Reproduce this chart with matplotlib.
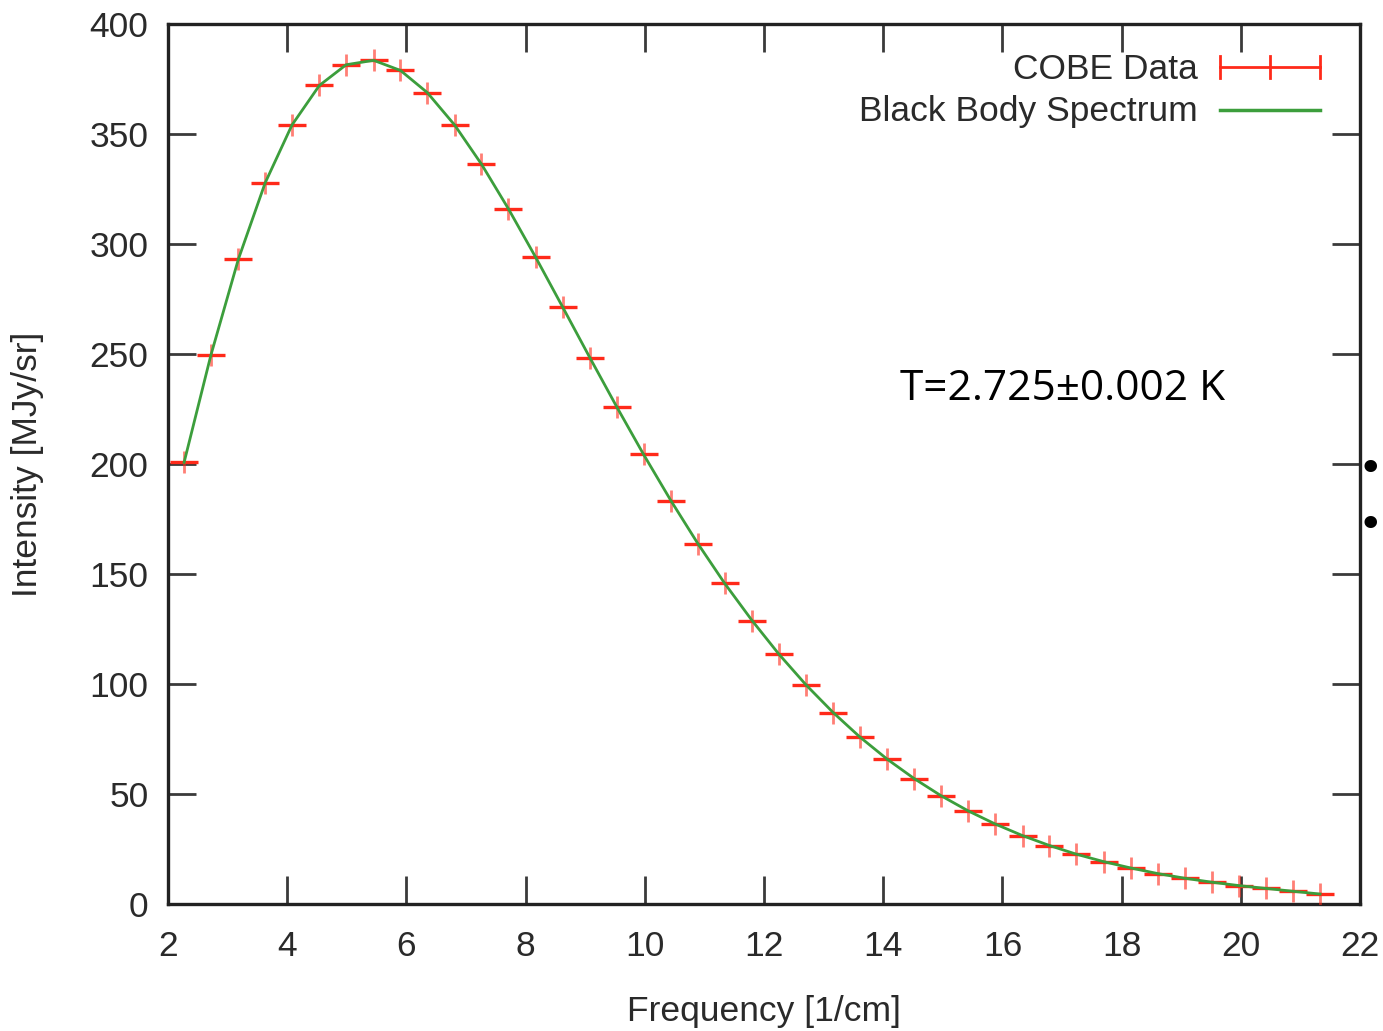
import matplotlib
matplotlib.use("Agg")
import matplotlib.pyplot as plt

# COBE FIRAS data
freq = [2.27, 2.72, 3.18, 3.63, 4.08, 4.54, 4.99, 5.45, 5.90, 6.35, 6.81, 7.26,
        7.71, 8.17, 8.62, 9.08, 9.53, 9.98, 10.44, 10.89, 11.34, 11.80, 12.25,
        12.71, 13.16, 13.61, 14.07, 14.52, 14.97, 15.43, 15.88, 16.34, 16.79,
        17.24, 17.70, 18.15, 18.61, 19.06, 19.51, 19.97, 20.42, 20.87, 21.33]
intensity = [200.723, 249.508, 293.024, 327.770, 354.081, 372.079, 381.493,
             383.478, 378.901, 368.833, 354.063, 336.278, 316.076, 293.924,
             271.432, 248.239, 225.940, 204.327, 183.262, 163.830, 145.750,
             128.835, 113.568, 99.451, 87.036, 75.876, 65.766, 57.008, 49.223,
             42.267, 36.352, 31.062, 26.580, 22.644, 19.255, 16.391, 13.811,
             11.716, 9.921, 8.364, 7.087, 5.801, 4.523]
# uncertainty in MJy/sr
err = [0.014, 0.019, 0.025, 0.023, 0.022, 0.021, 0.018, 0.018, 0.016, 0.014,
       0.013, 0.012, 0.011, 0.010, 0.011, 0.012, 0.014, 0.016, 0.018, 0.022,
       0.022, 0.023, 0.023, 0.023, 0.022, 0.021, 0.020, 0.019, 0.019, 0.019,
       0.021, 0.023, 0.026, 0.028, 0.030, 0.032, 0.033, 0.035, 0.041, 0.055,
       0.088, 0.155, 0.282]

xticks = [2, 4, 6, 8, 10, 12, 14, 16, 18, 20, 22]
yticks = [0, 50, 100, 150, 200, 250, 300, 350, 400]

W, H = 1383, 1031
fig = plt.figure(figsize=(W / 100, H / 100), dpi=100)
L, R, T, B = 168, 1360, 24, 904
ax = fig.add_axes([L / W, 1 - B / H, (R - L) / W, (B - T) / H])

red = "#ff2a1a"
green = "#3c9e3c"
tc = "#2a2a2a"
FS = 25.5

# data points with error bars
ax.plot(freq, intensity, linestyle="none", marker="|", markersize=15.5,
        markeredgewidth=2.0, color=red, alpha=0.6, zorder=3)
ax.plot(freq, intensity, linestyle="none", marker="_", markersize=19.5,
        markeredgewidth=2.4, color=red, zorder=3)
ax.errorbar(freq, intensity, yerr=err, fmt="none", ecolor=red, elinewidth=1.5,
            capsize=0, zorder=3)

# black body spectrum line
ax.plot(freq, intensity, color=green, linewidth=2.0, zorder=4)

ax.set_xlim(2, 22)
ax.set_ylim(0, 400)
ax.set_xticks(xticks)
ax.set_yticks(yticks)
ax.tick_params(direction="in", length=20, width=2.0, color="#3a3a3a",
               top=True, right=True, labelsize=FS, labelcolor=tc)
ax.tick_params(axis="x", pad=19)
ax.tick_params(axis="y", pad=14)
for lab in ax.get_xticklabels() + ax.get_yticklabels():
    lab.set_fontfamily("Liberation Sans")
for s in ax.spines.values():
    s.set_linewidth(2.4)
    s.set_color("#222222")

fig.text(764 / W, 1 - 1011 / H, "Frequency [1/cm]", ha="center", va="center",
         fontsize=FS, color=tc, family="Liberation Sans")
fig.text(28 / W, 1 - 464 / H, "Intensity [MJy/sr]", ha="center", va="center",
         rotation=90, fontsize=FS, color=tc, family="Liberation Sans")

# legend (manual, gnuplot style)
fig.text(1198 / W, 1 - 69 / H, "COBE Data", ha="right", va="center",
         fontsize=FS, color=tc, family="Liberation Sans")
fig.text(1198 / W, 1 - 112 / H, "Black Body Spectrum", ha="right", va="center",
         fontsize=FS, color=tc, family="Liberation Sans")
lx0, lx1 = 1220, 1320
ly0, ly1 = 67, 110
fig.add_artist(plt.Line2D([lx0 / W, lx1 / W], [1 - ly0 / H, 1 - ly0 / H],
                          color=red, linewidth=2.0))
for xx, hh in [(lx0, 11), (lx1, 11), ((lx0 + lx1) / 2, 11)]:
    fig.add_artist(plt.Line2D([xx / W, xx / W],
                              [1 - (ly0 - hh) / H, 1 - (ly0 + hh) / H],
                              color=red, linewidth=2.0))
fig.add_artist(plt.Line2D([lx0 / W, lx1 / W], [1 - ly1 / H, 1 - ly1 / H],
                          color=green, linewidth=2.5))

# annotation
fig.text(1063 / W, 1 - 389 / H, "T=2.725±0.002 K", ha="center", va="center",
         fontsize=30.5, color="black", family="Open Sans")

# slide bullets at right edge
for yy in (470, 526):
    fig.text(1370 / W, 1 - yy / H, "•", ha="center", va="center",
             fontsize=31, color="black", family="DejaVu Sans")

fig.savefig("out.png", dpi=100)
